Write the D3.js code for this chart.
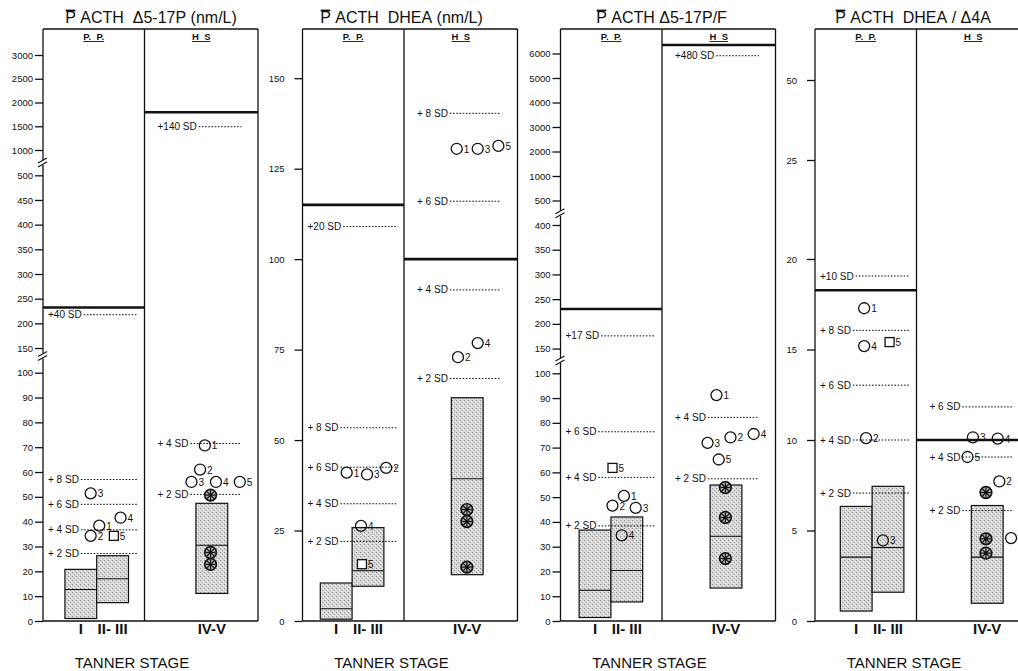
<!DOCTYPE html>
<html>
<head>
<meta charset="utf-8">
<script src="https://cdn.jsdelivr.net/npm/d3@7"></script>
<style>
  body { margin: 0; background: #fff; }
  svg { display: block; font-family: "Liberation Sans", Arial, sans-serif; }
</style>
</head>
<body>
<div id="chart"></div>
<script>
// ---- data ----
var titles = ["P ACTH  \u03945-17P (nm/L)", "P ACTH  DHEA (nm/L)", "P ACTH \u03945-17P/F", "P ACTH  DHEA / \u03944A"];
var stageLabels = ["I", "II- III", "IV-V"];
var stagePos = [1, 2, 5.12];
var groupLabels = ["P. P.", "H S"];

// y tick values
var ticks17P = [0, 10, 20, 30, 40, 50, 60, 70, 80, 90, 100, 150, 200, 250, 300, 350, 400, 450, 500, 1000, 1500, 2000, 2500, 3000];
var ticksDHEA = [0, 25, 50, 75, 100, 125, 150];
var ticksRatio = [0, 10, 20, 30, 40, 50, 60, 70, 80, 90, 100, 150, 200, 250, 300, 350, 400, 500, 1000, 2000, 3000, 4000, 5000, 6000];
var ticksDA = [0, 5, 10, 15, 20, 25, 50];

// boxes per stage: [low, median, high]
var box17P = [[1, 12.7, 20.8], [7.4, 17, 26.3], [11.1, 30.5, 47.4]];
var boxDHEA = [[0.5, 3.4, 10.5], [9.6, 13.9, 25.8], [12.8, 39.3, 61.7]];
var boxRatio = [[1.4, 12.4, 36.7], [7.7, 20.4, 42], [13.3, 34.2, 54.9]];
var boxDA = [[0.55, 3.53, 6.33], [1.59, 4.06, 7.44], [0.98, 3.53, 6.38]];

// cut-off (thick) lines: [P.P., H.S.]
var cut17P = [232, 1794];
var cutDHEA = [115, 100];
var cutRatio = [230, 6350];
var cutDA = [18.27, 10];

// SD reference lines
var sdPP17P = [["+40 SD", 217.5], ["+ 8 SD", 57], ["+ 6 SD", 47], ["+ 4 SD", 36.7], ["+ 2 SD", 27.2]];
var sdHS17P = [["+140 SD", 1490], ["+ 4 SD", 71.5], ["+ 2 SD", 51]];
var sdPPDHEA = [["+20 SD", 109], ["+ 8 SD", 53.4], ["+ 6 SD", 42.5], ["+ 4 SD", 32.4], ["+ 2 SD", 22]];
var sdHSDHEA = [["+ 8 SD", 140.3], ["+ 6 SD", 116], ["+ 4 SD", 91.5], ["+ 2 SD", 67]];
var sdPPRatio = [["+17 SD", 175.7], ["+ 6 SD", 76.4], ["+ 4 SD", 58], ["+ 2 SD", 38.4]];
var sdHSRatio = [["+480 SD", 5910], ["+ 4 SD", 82.2], ["+ 2 SD", 57.4]];
var sdPPDA = [["+10 SD", 19.06], ["+ 8 SD", 16.06], ["+ 6 SD", 13.03], ["+ 4 SD", 10], ["+ 2 SD", 7.07]];
var sdHSDA = [["+ 6 SD", 11.83], ["+ 4 SD", 9.06], ["+ 2 SD", 6.1]];

// patients: [stage position, value, number, marker]  o = circle, s = square, * = HS asterisk
var pts17P = [
  [1.31, 51.4, "3", "o"], [1.58, 38.4, "1", "o"], [1.31, 34.3, "2", "o"], [2.25, 41.6, "4", "o"], [2.04, 34.3, "5", "s"],
  [4.9, 70.7, "1", "o"], [4.75, 61, "2", "o"], [4.48, 56, "3", "o"], [5.25, 56, "4", "o"], [6.0, 56, "5", "o"],
  [5.08, 50.7, "", "*"], [5.08, 27.6, "", "*"], [5.08, 22.8, "", "*"]
];
var ptsDHEA = [
  [1.33, 41, "1", "o"], [1.97, 40.5, "3", "o"], [2.57, 42.3, "2", "o"], [1.78, 26.3, "4", "o"], [1.81, 15.7, "5", "s"],
  [4.79, 130.5, "1", "o"], [5.45, 130.5, "3", "o"], [6.1, 131.3, "5", "o"], [4.83, 72.9, "2", "o"], [5.45, 76.8, "4", "o"],
  [5.11, 30.8, "", "*"], [5.11, 27.5, "", "*"], [5.11, 14.9, "", "*"]
];
var ptsRatio = [
  [1.55, 61.8, "5", "s"], [1.91, 50.5, "1", "o"], [1.55, 46.6, "2", "o"], [2.28, 45.7, "3", "o"], [1.84, 34.6, "4", "o"],
  [4.82, 91.2, "1", "o"], [5.26, 74.1, "2", "o"], [4.54, 71.9, "3", "o"], [5.99, 75.5, "4", "o"], [4.89, 65.2, "5", "o"],
  [5.1, 53.9, "", "*"], [5.1, 41.8, "", "*"], [5.1, 25.2, "", "*"]
];
var ptsDA = [
  [1.25, 17.28, "1", "o"], [1.25, 15.19, "4", "o"], [2.05, 15.41, "5", "s"], [1.31, 10.1, "2", "o"], [1.84, 4.45, "3", "o"],
  [4.67, 10.15, "3", "o"], [5.45, 10.08, "4", "o"], [4.5, 9.06, "5", "o"], [5.5, 7.71, "2", "o"], [5.87, 4.58, "", "o"],
  [5.08, 7.1, "", "*"], [5.08, 4.54, "", "*"], [5.08, 3.75, "", "*"]
];

// ---- layout ----
var width = 1018, height = 671;
var plotTop = 29, plotBottom = 621;
var panelW = 215, secW = 101.5, unit = 31.8;
var panelLeft = [43, 302.5, 560.5, 815];
var stageInset = [37.8, 33.7, 34.5, 41.2];
var titleShift = [108, 99, 101, 98];
var tickPad = [2, 10, 2, 10];

var panels = [
  {title: titles[0], ticks: ticks17P, box: box17P, cut: cut17P, sdPP: sdPP17P, sdHS: sdHS17P, pts: pts17P,
   yDomain: [0, 100, 500, 1000, 3000, 3550], yRange: [621, 372.7, 175.3, 150, 55, 29], breaks: [135, 762]},
  {title: titles[1], ticks: ticksDHEA, box: boxDHEA, cut: cutDHEA, sdPP: sdPPDHEA, sdHS: sdHSDHEA, pts: ptsDHEA,
   yDomain: [0, 163.6], yRange: [621, 29], breaks: []},
  {title: titles[2], ticks: ticksRatio, box: boxRatio, cut: cutRatio, sdPP: sdPPRatio, sdHS: sdHSRatio, pts: ptsRatio,
   yDomain: [0, 100, 400, 500, 1000, 2000, 3000, 4000, 5000, 6000, 7000],
   yRange: [621, 373.3, 225, 200.5, 176, 151.5, 127, 102.5, 78, 53.5, 29], breaks: [127, 450]},
  {title: titles[3], ticks: ticksDA, box: boxDA, cut: cutDA, sdPP: sdPPDA, sdHS: sdHSDA, pts: ptsDA,
   yDomain: [0, 20, 25, 50, 65.9], yRange: [621, 259, 160, 80, 29], breaks: []}
];

var svg = d3.select("#chart")
            .append("svg")
            .attr("width", width)
            .attr("height", height);

// stippled grey fill for the boxes
var pat = svg.append("defs").append("pattern")
             .attr("id", "stip")
             .attr("width", 4).attr("height", 4)
             .attr("patternUnits", "userSpaceOnUse");
pat.append("rect").attr("width", 4).attr("height", 4).attr("fill", "#d6d6d6");
pat.append("rect").attr("x", 0).attr("y", 0).attr("width", 1).attr("height", 1).attr("fill", "#8c8c8c");
pat.append("rect").attr("x", 2).attr("y", 2).attr("width", 1).attr("height", 1).attr("fill", "#a4a4a4");
pat.append("rect").attr("x", 1).attr("y", 3).attr("width", 1).attr("height", 1).attr("fill", "#f4f4f4");
pat.append("rect").attr("x", 3).attr("y", 1).attr("width", 1).attr("height", 1).attr("fill", "#f0f0f0");

var ink = "#111";

panels.forEach(function(p, i) {
    var L = panelLeft[i], D = L + secW, R = L + panelW;
    var g = svg.append("g");

    var y = d3.scaleLinear().domain(p.yDomain).range(p.yRange);
    var x = d3.scaleLinear().domain([1, 2]).range([L + stageInset[i], L + stageInset[i] + unit]);

    // title with the bar over P
    var t = g.append("text")
             .attr("x", L + titleShift[i])
             .attr("y", 22.5)
             .attr("text-anchor", "middle")
             .attr("font-size", 16)
             .attr("fill", ink)
             .text(p.title.replace(/ /g, "\u00a0"));
    var ext = t.node().getExtentOfChar(0);
    g.append("line")
     .attr("x1", ext.x + 0.5).attr("x2", ext.x + ext.width - 0.5)
     .attr("y1", ext.y + 2).attr("y2", ext.y + 2)
     .attr("stroke", ink).attr("stroke-width", 1.8);

    // y axis
    var ax = g.append("g")
              .attr("transform", "translate(" + L + ",0)")
              .call(d3.axisLeft(y)
                  .tickValues(p.ticks)
                  .tickSize(8)
                  .tickPadding(tickPad[i])
                  .tickFormat(d3.format("d")));
    ax.attr("font-family", null).attr("font-size", null);
    ax.select(".domain").remove();
    ax.selectAll("line").attr("stroke", ink).attr("stroke-width", 1.3);
    ax.selectAll("text").attr("font-size", 9.5).attr("fill", ink);

    // frame
    var frame = [[L, plotTop, L, plotBottom], [D, plotTop, D, plotBottom], [R, plotTop, R, plotBottom],
                 [L, plotTop, R, plotTop], [L, plotBottom, R, plotBottom]];
    g.selectAll(".frame")
     .data(frame)
     .enter().append("line")
     .attr("class", "frame")
     .attr("x1", function(d) { return d[0]; })
     .attr("y1", function(d) { return d[1]; })
     .attr("x2", function(d) { return d[2]; })
     .attr("y2", function(d) { return d[3]; })
     .attr("stroke", ink)
     .attr("stroke-width", 1.3);

    // axis break marks
    p.breaks.forEach(function(v) {
        var yy = y(v);
        g.append("rect").attr("x", L - 2).attr("y", yy - 2).attr("width", 4).attr("height", 5).attr("fill", "#fff");
        g.append("line").attr("x1", L - 5).attr("y1", yy + 1).attr("x2", L + 4).attr("y2", yy - 4)
         .attr("stroke", ink).attr("stroke-width", 1.1);
        g.append("line").attr("x1", L - 5).attr("y1", yy + 5).attr("x2", L + 4).attr("y2", yy)
         .attr("stroke", ink).attr("stroke-width", 1.1);
    });

    // group headings
    [L + secW / 2, D + (panelW - secW) / 2].forEach(function(cx, k) {
        var h = g.append("text")
                 .attr("x", cx).attr("y", 40)
                 .attr("text-anchor", "middle")
                 .attr("font-size", 9.5)
                 .attr("font-weight", "bold")
                 .attr("fill", ink)
                 .text(groupLabels[k].replace(/ /g, "\u00a0\u00a0"));
        var w = h.node().getComputedTextLength();
        g.append("line")
         .attr("x1", cx - w / 2).attr("x2", cx + w / 2)
         .attr("y1", 41.5).attr("y2", 41.5)
         .attr("stroke", ink).attr("stroke-width", 0.9);
    });

    // boxes
    var bx = g.selectAll(".box")
              .data(p.box)
              .enter().append("g")
              .attr("class", "box");
    bx.append("rect")
      .attr("x", function(d, j) { return x(stagePos[j] - 0.5); })
      .attr("width", function(d, j) { return x(stagePos[j] + 0.5) - x(stagePos[j] - 0.5); })
      .attr("y", function(d) { return y(d[2]); })
      .attr("height", function(d) { return y(d[0]) - y(d[2]); })
      .attr("fill", "url(#stip)")
      .attr("stroke", ink)
      .attr("stroke-width", 1.2);
    bx.append("line")
      .attr("x1", function(d, j) { return x(stagePos[j] - 0.5); })
      .attr("x2", function(d, j) { return x(stagePos[j] + 0.5); })
      .attr("y1", function(d) { return y(d[1]); })
      .attr("y2", function(d) { return y(d[1]); })
      .attr("stroke", ink)
      .attr("stroke-width", 1.1);

    // SD reference lines
    function sdLines(list, x0, x1) {
        list.forEach(function(s) {
            var yy = y(s[1]);
            var tx = g.append("text")
                      .attr("x", x0).attr("y", yy + 3.5)
                      .attr("font-size", 10)
                      .attr("fill", ink)
                      .text(s[0].replace(/ /g, "\u00a0"));
            var w = tx.node().getComputedTextLength();
            g.append("line")
             .attr("x1", x0 + w + 2).attr("x2", x1)
             .attr("y1", yy).attr("y2", yy)
             .attr("stroke", ink)
             .attr("stroke-width", 1)
             .attr("stroke-dasharray", "1.6,1.6");
        });
    }
    sdLines(p.sdPP, L + 5, L + 94);
    sdLines(p.sdHS, D + 13, D + 97);

    // cut-off lines
    g.append("line").attr("x1", L).attr("x2", D).attr("y1", y(p.cut[0])).attr("y2", y(p.cut[0]))
     .attr("stroke", ink).attr("stroke-width", 2.6);
    g.append("line").attr("x1", D).attr("x2", R).attr("y1", y(p.cut[1])).attr("y2", y(p.cut[1]))
     .attr("stroke", ink).attr("stroke-width", 2.6);

    // patients
    var pt = g.selectAll(".pt")
              .data(p.pts)
              .enter().append("g")
              .attr("class", "pt")
              .attr("transform", function(d) { return "translate(" + x(d[0]) + "," + y(d[1]) + ")"; });

    pt.filter(function(d) { return d[3] === "o"; })
      .append("circle").attr("r", 5.5).attr("fill", "none").attr("stroke", ink).attr("stroke-width", 1.3);
    pt.filter(function(d) { return d[3] === "s"; })
      .append("rect").attr("x", -4.5).attr("y", -4.5).attr("width", 9).attr("height", 9)
      .attr("fill", "#fff").attr("stroke", ink).attr("stroke-width", 1.3);

    var star = pt.filter(function(d) { return d[3] === "*"; });
    star.append("circle").attr("r", 5.8).attr("fill", "#b4b4b4").attr("stroke", ink).attr("stroke-width", 1.7);
    [0, 45, 90, 135].forEach(function(a) {
        star.append("line")
            .attr("x1", -5).attr("x2", 5).attr("y1", 0).attr("y2", 0)
            .attr("transform", "rotate(" + a + ")")
            .attr("stroke", ink).attr("stroke-width", 1.2);
    });
    star.append("circle").attr("r", 1.8).attr("fill", ink);

    pt.append("text")
      .attr("x", function(d) { return d[3] === "s" ? 6 : 7; })
      .attr("y", 4)
      .attr("font-size", 10)
      .attr("fill", ink)
      .text(function(d) { return d[2]; });

    // x labels
    g.selectAll(".stage")
     .data(stageLabels)
     .enter().append("text")
     .attr("class", "stage")
     .attr("x", function(d, j) { return x(stagePos[j]); })
     .attr("y", 634)
     .attr("text-anchor", "middle")
     .attr("font-size", 15)
     .attr("font-weight", "bold")
     .attr("fill", ink)
     .text(function(d) { return d.replace(/ /g, "\u00a0"); });

    g.append("text")
     .attr("x", L + 89)
     .attr("y", 668)
     .attr("text-anchor", "middle")
     .attr("font-size", 15)
     .attr("fill", ink)
     .text("TANNER STAGE");
});
</script>
</body>
</html>
